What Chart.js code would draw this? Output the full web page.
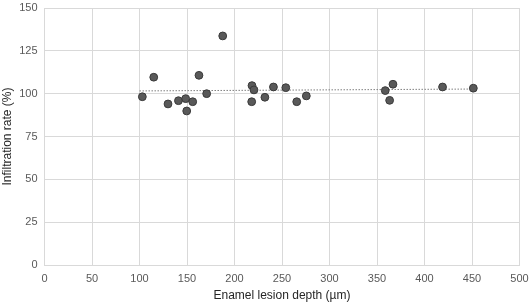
<!DOCTYPE html>
<html lang="en">
<head>
    <meta charset="UTF-8">
    <title>Infiltration rate vs lesion depth</title>
    <script src="https://cdn.jsdelivr.net/npm/chart.js@4.4.1/dist/chart.umd.js"></script>
    <style>
        body { margin: 0; background: #fff; }
        #chart { display: block; }
    </style>
</head>
<body>
    <canvas id="chart" width="532" height="305"></canvas>
    <script>
        // lesion depth (um) and infiltration rate (%)
        const depth = [103, 115, 130, 141, 148.6, 149.7, 156, 162.6, 170.7, 187.6,
                       218.4, 220.5, 218.1, 232, 241, 254, 265.5, 275.6,
                       358.7, 366.8, 363.3, 419, 451.4];
        const rate = [98.2, 109.6, 94, 95.9, 97.1, 89.9, 95.3, 110.7, 100, 133.7,
                      104.7, 102.2, 95.3, 97.9, 103.9, 103.5, 95.3, 98.7,
                      101.8, 105.5, 96.1, 103.9, 103.2];
        // dotted trend line end points
        const trendX = [100, 451.4];
        const trendY = [101.6, 102.7];

        const xTicks = [0, 50, 100, 150, 200, 250, 300, 350, 400, 450, 500];
        const yTicks = [0, 25, 50, 75, 100, 125, 150];

        const font = { family: "'Liberation Sans', Arial, sans-serif", size: 11 };
        const titleFont = { family: "'Liberation Sans', Arial, sans-serif", size: 12 };

        new Chart(document.getElementById('chart'), {
            type: 'scatter',
            data: {
                datasets: [
                    {
                        data: depth.map((d, i) => ({ x: d, y: rate[i] })),
                        backgroundColor: '#595959',
                        borderColor: '#3a3a3a',
                        borderWidth: 1,
                        pointRadius: 3.9
                    },
                    {
                        type: 'line',
                        data: trendX.map((d, i) => ({ x: d, y: trendY[i] })),
                        borderColor: '#7f7f7f',
                        borderWidth: 1,
                        borderDash: [1.5, 1.5],
                        pointRadius: 0,
                        fill: false
                    }
                ]
            },
            options: {
                responsive: false,
                animation: false,
                layout: { padding: { top: 8, right: 12.5, left: 0, bottom: 0 } },
                plugins: { legend: { display: false }, tooltip: { enabled: false } },
                scales: {
                    x: {
                        type: 'linear',
                        min: 0, max: 500,
                        afterBuildTicks: s => { s.ticks = xTicks.map(v => ({ value: v })); },
                        afterFit: s => { s.height = 40; s.paddingLeft = 0; s.paddingRight = 0; },
                        ticks: { color: '#595959', font: font, padding: 7, maxRotation: 0 },
                        grid: { color: '#d9d9d9', drawTicks: false },
                        border: { color: '#d9d9d9' },
                        title: { display: true, text: 'Enamel lesion depth (µm)', color: '#262626', font: titleFont, padding: { top: 0, bottom: 2 } }
                    },
                    y: {
                        min: 0, max: 150,
                        afterBuildTicks: s => { s.ticks = yTicks.map(v => ({ value: v })); },
                        afterFit: s => { s.width = 44.5; s.paddingTop = 0; s.paddingBottom = 0; },
                        ticks: { color: '#595959', font: font, padding: 7 },
                        grid: { color: '#d9d9d9', drawTicks: false },
                        border: { color: '#d9d9d9' },
                        title: { display: true, text: 'Infiltration rate (%)', color: '#262626', font: titleFont, padding: { top: 0, bottom: 2 } }
                    }
                }
            }
        });
    </script>
</body>
</html>
